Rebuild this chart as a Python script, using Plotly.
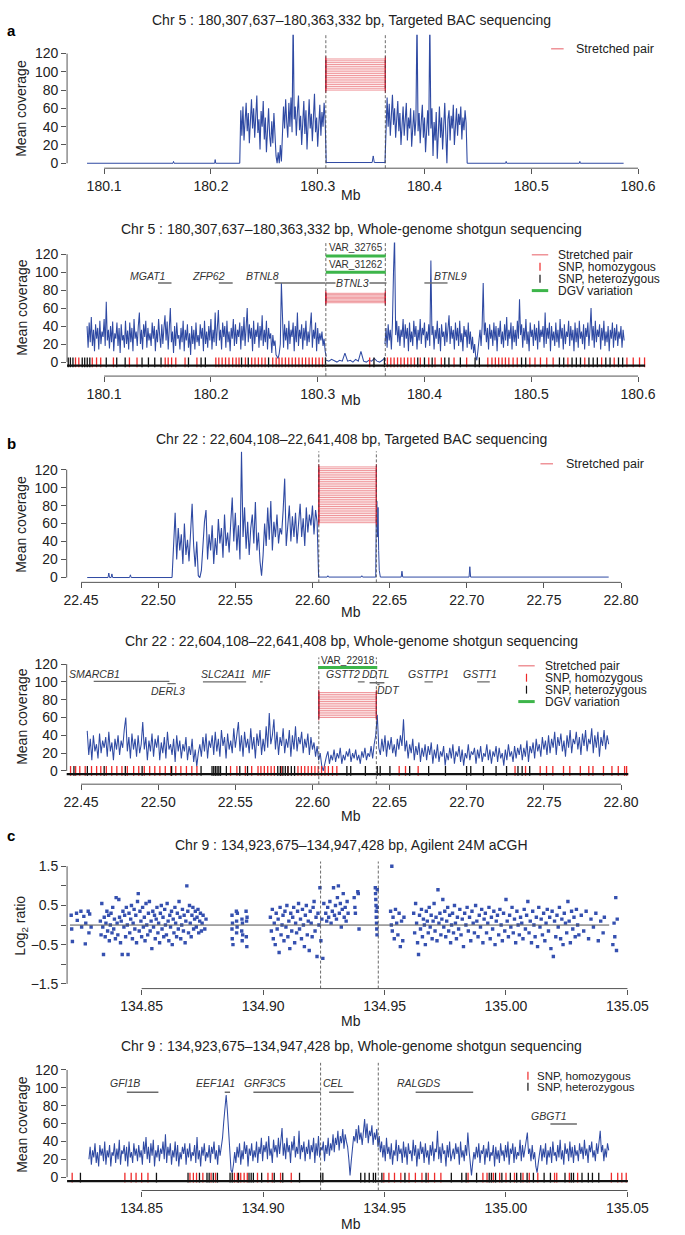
import plotly.graph_objects as go

W, H = 685, 1235
BLUE = '#2f4aa3'
PAIR = 'rgba(226,60,70,0.55)'
PAIR_EDGE = '#d7263d'
GREEN = '#3db54a'
GREY = '#555555'
GENE = '#6a6a6a'
TXT = '#222222'
RED = '#ee2a2a'
BLACK = '#111111'
FONT = 'Arial, Liberation Sans, sans-serif'

# breakpoints (Mb)
chr5_bp = [180.307637, 180.363332]
chr22_bp = [22.604108, 22.641408]
chr9_bp = [134.923675, 134.947428]

# ---------------- panel a, targeted BAC (chr5) ----------------
bac5_flat_left_x = [180.084, 180.1645, 180.165, 180.1655, 180.2035, 180.204, 180.2045, 180.227]
bac5_flat_left_y = [0, 0, 2, 0, 0, 4, 0, 0]
bac5_a_span = [180.227, 180.308]
bac5_a_vals = [0, 58, 30, 62, 25, 48, 66, 35, 55, 22,
               45, 70, 38, 60, 28, 52, 74, 33, 48, 15,
               57, 40, 68, 26, 50, 12, 44, 60, 30, 18,
               46, 22, 55, 30, 8, 0, 12, 0, 20, 2,
               30, 62, 38, 70, 45, 28, 66, 40, 72, 34,
               160, 48, 62, 30, 56, 74, 36, 52, 20, 46,
               68, 32, 58, 15, 48, 70, 38, 54, 24, 60,
               76, 34, 50, 18, 44, 64, 30, 56, 40, 66,
               48, 0]
bac5_gap_x = [180.308, 180.351, 180.352, 180.353, 180.363]
bac5_gap_y = [0.8, 0.8, 8, 0.8, 0.8]
bac5_b_span = [180.363, 180.440]
bac5_b_vals = [0, 50, 72, 40, 65, 30, 58, 75, 42, 60,
               28, 52, 68, 35, 55, 20, 48, 62, 30, 45,
               66, 25, 50, 38, 60, 18, 42, 58, 30, 48,
               160, 35, 55, 22, 46, 64, 28, 50, 12, 40,
               58, 30, 160, 38, 60, 8, 45, 25, 56, 5,
               42, 62, 28, 50, 15, 44, 66, 32, 0, 48,
               58, 25, 52, 38, 64, 20, 46, 60, 30, 54,
               42, 62, 26, 50, 36, 58, 44, 0]
bac5_flat_right_x = [180.440, 180.476, 180.4765, 180.477, 180.545, 180.5455, 180.546, 180.5865]
bac5_flat_right_y = [0, 0, 2, 0, 0, 2, 0, 0]
pairs5_bac = [80, 82, 84, 86, 88, 90, 92, 94, 96, 98, 100, 102, 104, 106, 108, 110, 112, 114]

# ---------------- panel a, WGS (chr5), 1 kb bins ----------------
wgs5_left_span = [180.084, 180.308]
wgs5_left = [40, 16, 44, 22, 50, 18, 36, 12, 42, 26, 38, 14, 46, 20, 34, 28, 48, 18, 67, 24,
             36, 15, 40, 22, 45, 12, 32, 26, 44, 18, 38, 10, 42, 24, 30, 16, 46, 20, 35, 14,
             44, 22, 38, 12, 48, 26, 34, 18, 40, 55, 20, 36, 14, 42, 28, 46, 16, 38, 24, 32,
             18, 44, 26, 40, 12, 36, 22, 48, 30, 16, 42, 20, 38, 52, 24, 45, 14, 40, 60, 22,
             34, 10, 40, 18, 44, 26, 30, 14, 38, 22, 46, 12, 36, 24, 42, 16, 32, 8, 40, 20,
             36, 14, 44, 22, 30, 18, 42, 26, 38, 12, 46, 20, 34, 16, 40, 24, 48, 14, 36, 22,
             55, 18, 42, 58, 24, 36, 14, 44, 28, 40, 16, 46, 22, 34, 12, 38, 26, 48, 18, 42,
             20, 36, 28, 44, 14, 40, 24, 50, 18, 34, 60, 22, 42, 26, 38, 12, 46, 20, 36, 28,
             44, 16, 40, 24, 52, 18, 36, 22, 46, 14, 38, 26, 32, 10, 30, 18, 24, 8, 6, 4,
             10, 20, 88, 34, 16, 42, 24, 38, 14, 46, 20, 36, 28, 44, 12, 40, 22, 55, 18, 36,
             26, 42, 14, 38, 24, 46, 18, 34, 22, 40, 55, 16, 36, 26, 44, 12, 38, 20, 32, 24,
             34, 18, 26, 12, 6]
wgs5_del_span = [180.308, 180.363]
wgs5_del = [2, 1, 3, 1, 0, 2, 1, 10, 1, 2, 0, 3, 1, 12, 1, 0, 2, 1, 4, 1, 0, 2, 5]
wgs5_right_span = [180.363, 180.587]
wgs5_right = [20, 38, 16, 42, 24, 36, 14, 44, 100, 140, 30, 46, 22, 40, 18, 36, 28, 48, 16, 42,
              26, 38, 12, 44, 22, 34, 18, 46, 28, 40, 14, 36, 24, 48, 20, 38, 30, 44, 16, 34,
              24, 42, 18, 113, 30, 40, 14, 36, 26, 46, 20, 38, 12, 42, 28, 34, 18, 44, 22, 36,
              52, 20, 40, 26, 36, 14, 44, 24, 38, 18, 46, 22, 32, 12, 40, 28, 36, 16, 44, 20,
              34, 14, 28, 10, 20, 6, 2, 12, 26, 36, 18, 40, 88, 30, 44, 22, 38, 14, 42, 26,
              36, 18, 44, 24, 40, 12, 38, 28, 46, 20, 34, 16, 42, 24, 50, 18, 36, 26, 44, 14,
              40, 22, 36, 18, 46, 26, 70, 30, 42, 16, 38, 24, 48, 20, 34, 12, 44, 28, 36, 18,
              42, 24, 38, 14, 46, 22, 36, 28, 40, 16, 55, 20, 38, 26, 44, 12, 40, 24, 34, 18,
              44, 22, 36, 16, 48, 26, 38, 14, 42, 20, 34, 28, 46, 18, 40, 24, 36, 12, 44, 22,
              38, 16, 46, 26, 34, 20, 42, 14, 38, 28, 44, 18, 36, 60, 24, 40, 16, 46, 22, 36,
              28, 42, 14, 38, 24, 46, 18, 34, 22, 40, 12, 36, 26, 44, 16, 38, 24, 42, 18, 34,
              26, 40, 16, 36, 24]
pairs5_wgs = [66, 67.5, 69, 70.5, 72, 73.5, 75, 76.5]
snp5_hom = [180.0732, 180.0763, 180.0889, 180.0929, 180.0968, 180.1087, 180.1237, 180.1308,
            180.1572, 180.1600, 180.1632, 180.1671, 180.1758, 180.1869, 180.2046, 180.2074,
            180.2105, 180.2137, 180.2169, 180.2204, 180.2236, 180.2263, 180.2323, 180.2382,
            180.2413, 180.2445, 180.2477, 180.2508, 180.2579, 180.2611, 180.2638, 180.2666,
            180.2698, 180.2729, 180.2761, 180.2792, 180.2824, 180.2856, 180.2887, 180.2919,
            180.2950, 180.2982, 180.3013, 180.3045, 180.3487, 180.3653, 180.3685, 180.3716,
            180.3748, 180.3779, 180.3811, 180.3843, 180.3874, 180.3906, 180.3961, 180.4040,
            180.4099, 180.4158, 180.4277, 180.4395, 180.4593, 180.4632, 180.4664, 180.4695,
            180.4727, 180.4758, 180.4790, 180.4830, 180.4869, 180.4987, 180.5035, 180.5086,
            180.5145, 180.5205, 180.5343, 180.5501, 180.5659, 180.5777, 180.5896, 180.5955,
            180.6014, 180.6061]
snp5_het = [180.0664, 180.0684, 180.0708, 180.0795, 180.0818, 180.0842, 180.0866, 180.1020,
            180.1118, 180.1197, 180.1355, 180.1415, 180.1474, 180.1533, 180.1790, 180.1908,
            180.1948, 180.2287, 180.2350, 180.2540, 180.3073, 180.3527, 180.3625, 180.3937,
            180.4000, 180.4072, 180.4190, 180.4229, 180.4336, 180.4474, 180.4514, 180.4909,
            180.4948, 180.5264, 180.5304, 180.5382, 180.5422, 180.5461, 180.5540, 180.5580,
            180.5619, 180.5698, 180.5738, 180.5817, 180.5856]
genes5_name = ['MGAT1', 'ZFP62', 'BTNL8', 'BTNL3', 'BTNL9']
genes5_start = [180.1505, 180.2074, 180.2598, 180.3076, 180.3999]
genes5_end = [180.1631, 180.2204, 180.3073, 180.3644, 180.4216]
genes5_y = [88, 88, 88, 88, 88]
genes5_lab_x = [180.1403, 180.1979, 180.2480, 180.3330, 180.4244]
genes5_lab_y = [96, 96, 96, 88, 96]
dgv5_name = ['VAR_32765', 'VAR_31262']
dgv5_y = [118, 100]
dgv5_lab_y = [127, 108.5]
dgv5_span = [180.3076, 180.3638]

# ---------------- panel b, targeted BAC (chr22) ----------------
bac22_flat_left_x = [22.454, 22.4675, 22.468, 22.4685, 22.4695, 22.470, 22.4705,
                     22.4815, 22.482, 22.4825, 22.509]
bac22_flat_left_y = [0, 0, 5, 0, 0, 4, 0, 0, 3, 0, 0]
bac22_span = [22.509, 22.604]
bac22_vals = [0, 45, 72, 20, 55, 30, 48, 15, 60, 25,
              42, 18, 50, 82, 35, 12, 40, 2, 0, 8,
              35, 62, 75, 20, 48, 30, 58, 15, 44, 25,
              65, 38, 55, 22, 70, 35, 50, 28, 60, 89,
              40, 72, 30, 58, 20, 140, 45, 78, 32, 62,
              25, 55, 70, 38, 84, 30, 50, 18, 2, 25,
              60, 35, 78, 42, 85, 30, 62, 45, 70, 38,
              55, 48, 75, 110, 35, 62, 80, 40, 68, 45,
              72, 38, 60, 82, 45, 66, 35, 78, 50, 70,
              58, 80, 48, 75, 62, 0]
bac22_gap_x = [22.604, 22.6095, 22.610, 22.6105, 22.6315, 22.632, 22.6325, 22.641,
               22.6413, 22.6417, 22.6421, 22.6425, 22.6429, 22.6433, 22.644,
               22.6575, 22.658, 22.6585, 22.7015, 22.702, 22.7025, 22.792]
bac22_gap_y = [0.5, 0.5, 2, 0.5, 0.5, 2, 0.5, 0.5,
               60, 85, 45, 78, 30, 8, 0.5,
               0.5, 7, 0.5, 0.5, 12, 0.5, 0.5]
pairs22_bac = [61, 63, 65, 67, 69, 71, 73, 75, 77, 79, 81, 83, 85, 87, 89, 91,
               93, 95, 97, 99, 101, 103, 105, 107, 109, 111, 113, 115, 117, 119, 121, 123]

# ---------------- panel b, WGS (chr22), 1 kb bins ----------------
wgs22_span = [22.454, 22.792]
wgs22_vals = [45, 18, 36, 12, 40, 22, 30, 14, 42, 20, 34, 26, 38, 16, 44, 22, 32, 12, 36, 24,
              40, 18, 34, 26, 46, 60, 22, 38, 14, 42, 24, 36, 16, 40, 20, 30, 55, 24, 38, 12,
              34, 22, 42, 16, 36, 26, 40, 12, 32, 20, 38, 14, 44, 24, 30, 18, 36, 10, 40, 22,
              34, 14, 30, 22, 38, 12, 28, 18, 36, 10, 24, 5, 20, 30, 16, 38, 22, 42, 14, 34,
              26, 40, 18, 44, 22, 36, 16, 46, 28, 38, 14, 42, 24, 34, 20, 48, 26, 38, 55, 22,
              40, 16, 44, 26, 36, 20, 48, 24, 38, 14, 42, 28, 46, 18, 36, 22, 50, 26, 65, 30,
              40, 58, 24, 44, 18, 38, 28, 48, 20, 36, 26, 46, 16, 40, 24, 50, 22, 38, 30, 44,
              20, 36, 26, 42, 18, 38, 24, 32, 16, 28, 12, 20, 6, 0, 10, 16, 22, 8, 18, 12,
              24, 10, 20, 14, 26, 8, 18, 12, 22, 16, 25, 10, 20, 14, 24, 12, 18, 8, 22, 15,
              26, 12, 20, 16, 28, 14, 30, 40, 63, 26, 18, 36, 22, 40, 16, 34, 24, 38, 20, 30,
              16, 36, 24, 40, 28, 58, 22, 34, 14, 30, 20, 36, 12, 28, 18, 32, 10, 26, 16, 30,
              12, 28, 18, 32, 8, 24, 14, 30, 10, 22, 16, 28, 6, 20, 12, 26, 14, 30, 8, 22,
              16, 28, 10, 24, 6, 20, 14, 30, 12, 22, 18, 26, 8, 24, 14, 28, 10, 20, 16, 30,
              12, 24, 8, 22, 16, 28, 10, 26, 14, 20, 6, 24, 12, 30, 16, 22, 10, 28, 14, 26,
              18, 30, 12, 26, 16, 34, 10, 28, 20, 32, 14, 36, 22, 30, 16, 38, 24, 34, 18, 40,
              20, 36, 26, 44, 18, 38, 28, 42, 22, 34, 16, 40, 26, 46, 20, 36, 30, 44, 24, 38,
              18, 42, 28, 46, 22, 36, 30, 48, 20, 40, 26, 44, 16, 38, 28, 46, 24, 40, 30]
pairs22_wgs = [60, 62, 64, 66, 68, 70, 72, 74, 76, 78, 80, 82, 84, 86, 88]
snp22_hom = [22.4432, 22.4465, 22.4492, 22.4527, 22.4568, 22.4601, 22.4628, 22.4664,
             22.4699, 22.4732, 22.4765, 22.4800, 22.4841, 22.4874, 22.4910, 22.4945,
             22.4978, 22.5011, 22.5046, 22.5082, 22.5114, 22.5147, 22.5183, 22.5218,
             22.5251, 22.5469, 22.5510, 22.5565, 22.5606, 22.5647, 22.5666, 22.5688,
             22.5710, 22.5732, 22.5753, 22.5797, 22.5841, 22.5906, 22.5928, 22.5950,
             22.5972, 22.5994, 22.6016, 22.6037, 22.6059, 22.6081, 22.6103, 22.6130,
             22.6158, 22.6562, 22.6603, 22.6685, 22.7313, 22.7381, 22.7476, 22.7517,
             22.7558, 22.7627, 22.7668, 22.7736, 22.7791, 22.7818, 22.7886, 22.7941,
             22.7982, 22.8023, 22.8036]
snp22_het = [22.4454, 22.4541, 22.4650, 22.4787, 22.4896, 22.5087, 22.5278, 22.5349,
             22.5360, 22.5371, 22.5382, 22.5393, 22.5404, 22.5442, 22.5529, 22.5579,
             22.5775, 22.5792, 22.5808, 22.5824, 22.5841, 22.5863, 22.5884, 22.6223,
             22.6248, 22.6343, 22.6420, 22.6439, 22.6502, 22.6630, 22.6753, 22.6862,
             22.6999, 22.7026, 22.7108, 22.7190, 22.7258, 22.7332, 22.7359, 22.7408]
genes22_name = ['SMARCB1', 'DERL3', 'SLC2A11', 'MIF', 'GSTT2', 'DDTL', 'DDT', 'GSTTP1', 'GSTT1']
genes22_start = [22.4582, 22.5060, 22.5290, 22.5660, 22.6294, 22.6370, 22.6420, 22.6726, 22.7067]
genes22_end = [22.5073, 22.5114, 22.5570, 22.5677, 22.6338, 22.6466, 22.6435, 22.6780, 22.7149]
genes22_y = [100.6, 98, 100, 100, 100, 99, 97, 100, 100]
genes22_lab_x = [22.4587, 22.5065, 22.5423, 22.5672, 22.6201, 22.6411, 22.6491, 22.6750, 22.7086]
genes22_lab_y = [109, 89.5, 109, 109, 109, 109, 90.6, 109, 109]
dgv22_name = ['VAR_22918']
dgv22_y = [116.3]
dgv22_lab_y = [124]
dgv22_span = [22.6037, 22.6420]

# ---------------- panel c, aCGH (chr9) ----------------
acgh_line = [134.8205, 135.0425]
acgh_probes = [
    (134.8210, 0.25), (134.8212, -0.10), (134.8215, -0.42), (134.8232, 0.30), (134.8235, 0.12),
    (134.8250, 0.35), (134.8253, -0.05), (134.8262, 0.22), (134.8268, -0.48), (134.8270, 0.05),
    (134.8280, 0.35), (134.8283, -0.20), (134.8286, 0.28), (134.8292, -0.05),
    (134.8330, 0.10), (134.8333, -0.25), (134.8336, 0.55), (134.8340, -0.05), (134.8343, -0.75),
    (134.8346, 0.20), (134.8350, -0.30), (134.8353, 0.05), (134.8357, 0.35), (134.8360, -0.15),
    (134.8364, 0.25), (134.8367, -0.40), (134.8371, 0.00), (134.8374, 0.30), (134.8378, -0.20),
    (134.8381, 0.45), (134.8385, -0.10), (134.8388, 0.15), (134.8392, -0.35), (134.8395, 0.70),
    (134.8399, 0.05), (134.8402, -0.25), (134.8406, 0.65), (134.8409, 0.20), (134.8413, -0.45),
    (134.8416, 0.10), (134.8420, -0.75), (134.8423, 0.35), (134.8427, -0.05), (134.8430, 0.25),
    (134.8434, -0.30), (134.8437, 0.45), (134.8441, 0.00), (134.8444, -0.75), (134.8448, 0.30),
    (134.8451, -0.20), (134.8455, 0.15), (134.8458, 0.50), (134.8462, -0.35), (134.8465, 0.05),
    (134.8469, 0.40), (134.8472, -0.10), (134.8476, 0.25), (134.8479, -0.45), (134.8483, 0.60),
    (134.8486, 0.80), (134.8490, -0.15), (134.8493, 0.35), (134.8497, 0.10), (134.8500, -0.30),
    (134.8504, 0.45), (134.8507, -0.05), (134.8511, 0.20), (134.8514, -0.40), (134.8518, 0.55),
    (134.8521, 0.00), (134.8525, -0.25), (134.8528, 0.30), (134.8532, 0.60), (134.8535, -0.15),
    (134.8539, 0.10), (134.8542, -0.60), (134.8546, 0.35), (134.8549, -0.05), (134.8553, 0.25),
    (134.8556, -0.35), (134.8560, 0.15), (134.8563, 0.45), (134.8567, -0.20), (134.8570, 0.05),
    (134.8574, -0.45), (134.8577, 0.30), (134.8581, 0.50), (134.8584, -0.10), (134.8588, 0.20),
    (134.8591, -0.30), (134.8595, 0.40), (134.8598, 0.00), (134.8602, -0.25), (134.8605, 0.55),
    (134.8609, 0.10), (134.8612, -0.40), (134.8616, 0.25), (134.8619, -0.05), (134.8623, 0.35),
    (134.8626, -0.50), (134.8630, 0.15), (134.8633, -0.20), (134.8637, 0.45), (134.8640, 0.05),
    (134.8644, -0.30), (134.8647, 0.30), (134.8651, -0.10), (134.8654, 0.60), (134.8658, 0.20),
    (134.8661, -0.35), (134.8665, 0.00), (134.8668, 0.40), (134.8672, -0.15), (134.8675, 0.25),
    (134.8679, -0.45), (134.8682, 0.10), (134.8686, 1.00), (134.8690, 0.35), (134.8693, -0.20),
    (134.8697, 0.50), (134.8700, 0.05), (134.8704, -0.30), (134.8707, 0.25), (134.8711, 0.45),
    (134.8714, -0.10), (134.8718, 0.15), (134.8721, 0.35), (134.8725, -0.05), (134.8728, 0.20),
    (134.8732, 0.40), (134.8735, -0.20), (134.8739, 0.10), (134.8742, 0.30), (134.8746, -0.15),
    (134.8749, 0.05), (134.8753, 0.25), (134.8760, -0.10), (134.8765, 0.15),
    (134.8872, 0.25), (134.8872, -0.10), (134.8873, -0.35), (134.8874, 0.05), (134.8876, -0.50),
    (134.8890, 0.35), (134.8891, 0.10), (134.8891, -0.20), (134.8893, -0.05), (134.8894, 0.30),
    (134.8912, -0.15), (134.8913, 0.15), (134.8914, -0.40), (134.8915, 0.05), (134.8916, -0.25),
    (134.8930, 0.35), (134.8931, -0.30), (134.8932, 0.10), (134.8933, -0.55), (134.8934, 0.20),
    (134.9030, 0.20), (134.9034, -0.15), (134.9038, 0.40), (134.9042, -0.35), (134.9046, 0.05),
    (134.9050, -0.50), (134.9054, 0.30), (134.9058, -0.10), (134.9062, 0.15), (134.9066, -0.70),
    (134.9070, 0.45), (134.9074, -0.25), (134.9078, 0.00), (134.9082, 0.25), (134.9086, -0.40),
    (134.9090, 0.35), (134.9094, -0.05), (134.9098, 0.50), (134.9102, -0.30), (134.9106, 0.10),
    (134.9110, -0.60), (134.9114, 0.30), (134.9118, -0.15), (134.9122, 0.20), (134.9126, 0.45),
    (134.9130, -0.45), (134.9134, 0.05), (134.9138, -0.20), (134.9142, 0.35), (134.9146, 0.55),
    (134.9150, -0.10), (134.9154, 0.15), (134.9158, -0.35), (134.9162, 0.40), (134.9166, 0.00),
    (134.9170, -0.55), (134.9174, 0.25), (134.9178, 0.50), (134.9182, -0.25), (134.9186, 0.10),
    (134.9190, -0.65), (134.9194, 0.35), (134.9198, 0.05), (134.9202, -0.30), (134.9206, 0.45),
    (134.9210, 0.60), (134.9214, -0.15), (134.9218, 0.20), (134.9222, -0.80), (134.9226, 0.30),
    (134.9230, 0.00), (134.9234, 0.95), (134.9238, -0.40), (134.9242, 0.15), (134.9246, -0.85),
    (134.9250, 0.55),
    (134.9258, 0.30), (134.9262, 0.10), (134.9266, 0.45), (134.9270, 0.20), (134.9275, 0.60),
    (134.9280, 0.05), (134.9285, 0.35), (134.9290, 0.95), (134.9294, 0.25), (134.9298, 0.50),
    (134.9302, 0.15), (134.9306, 0.70), (134.9310, 1.00), (134.9314, 0.30), (134.9318, 0.55),
    (134.9322, -0.05), (134.9326, 0.40), (134.9330, 0.80), (134.9334, 0.20), (134.9338, 0.45),
    (134.9342, 0.10), (134.9346, 0.60), (134.9350, 0.30), (134.9375, 0.70), (134.9378, 0.45),
    (134.9380, 0.30), (134.9390, 0.85), (134.9392, 0.80), (134.9395, -0.10),
    (134.9462, 0.95), (134.9463, 0.80), (134.9464, 0.65), (134.9465, 0.50), (134.9466, 0.35),
    (134.9466, 0.20), (134.9467, 0.05), (134.9468, -0.10), (134.9469, -0.25), (134.9470, 0.90),
    (134.9470, 0.45),
    (134.9525, 0.35), (134.9528, 0.00), (134.9530, 1.50), (134.9532, -0.15), (134.9535, 0.20),
    (134.9540, -0.35), (134.9545, 0.40), (134.9550, 0.05), (134.9555, -0.25), (134.9560, 0.30),
    (134.9565, -0.55), (134.9570, 0.10), (134.9575, -0.40), (134.9580, 0.20),
    (134.9620, 0.30), (134.9624, -0.20), (134.9628, 0.55), (134.9632, 0.05), (134.9636, -0.45),
    (134.9640, -0.75), (134.9644, 0.25), (134.9648, -0.10), (134.9652, 0.40), (134.9656, -0.30),
    (134.9660, 0.15), (134.9664, 0.00), (134.9668, -0.50), (134.9672, 0.35), (134.9676, 0.10),
    (134.9680, -0.20), (134.9684, 0.45), (134.9688, -0.05), (134.9692, 0.25), (134.9696, -0.35),
    (134.9700, 0.10), (134.9704, 0.55), (134.9708, -0.15), (134.9712, 0.20), (134.9716, -0.40),
    (134.9720, 0.90), (134.9724, 0.05), (134.9728, 0.30), (134.9732, -0.25), (134.9736, 0.15),
    (134.9740, 0.65), (134.9744, -0.05), (134.9748, 0.35), (134.9752, -0.30), (134.9756, 0.10),
    (134.9760, 0.45), (134.9764, -0.15), (134.9768, 0.25), (134.9772, -0.45), (134.9776, 0.00),
    (134.9780, 0.30), (134.9784, -0.20), (134.9788, 0.50), (134.9792, 0.05), (134.9796, -0.35),
    (134.9800, 0.20), (134.9805, -0.10), (134.9810, 0.40), (134.9815, -0.25), (134.9820, 0.15),
    (134.9825, -0.55), (134.9830, 0.30), (134.9835, 0.00), (134.9840, 0.45), (134.9845, -0.15),
    (134.9850, 0.20), (134.9855, -0.40), (134.9860, 0.35), (134.9865, 0.05), (134.9870, -0.20),
    (134.9875, 0.50), (134.9880, 0.10), (134.9885, -0.30), (134.9890, 0.25), (134.9895, -0.05),
    (134.9900, 0.40), (134.9905, -0.45), (134.9910, 0.15), (134.9915, 0.30), (134.9920, -0.20),
    (134.9925, 0.05), (134.9930, 0.45), (134.9935, -0.35), (134.9940, 0.20), (134.9945, -0.10),
    (134.9950, 0.35), (134.9955, -0.50), (134.9960, 0.10), (134.9965, 0.25), (134.9970, -0.25),
    (134.9975, 0.40), (134.9980, 0.00), (134.9985, -0.40), (134.9990, 0.30), (134.9995, -0.15),
    (135.0000, 0.65), (135.0005, 0.10), (135.0010, -0.30), (135.0015, 0.25), (135.0020, -0.05),
    (135.0025, 0.45), (135.0030, -0.20), (135.0035, 0.15), (135.0040, -0.45), (135.0045, 0.35),
    (135.0050, 0.00), (135.0055, -0.25), (135.0060, 0.20), (135.0065, 0.05), (135.0070, -0.35),
    (135.0075, 0.40), (135.0080, -0.10), (135.0085, 0.25), (135.0090, 0.60), (135.0095, -0.20),
    (135.0100, 0.10), (135.0105, -0.45), (135.0110, 0.35), (135.0115, 0.00), (135.0120, -0.30),
    (135.0125, 0.20), (135.0130, -0.55), (135.0135, 0.45), (135.0140, -0.05), (135.0145, 0.15),
    (135.0150, -0.25), (135.0155, 0.30), (135.0160, -0.40), (135.0165, 0.05), (135.0170, 0.40),
    (135.0175, -0.15), (135.0180, 0.20), (135.0185, -0.60), (135.0190, 0.35), (135.0195, -0.80),
    (135.0200, 0.10), (135.0205, -0.30), (135.0210, 0.25), (135.0215, -0.05), (135.0220, 0.45),
    (135.0225, -0.35), (135.0230, 0.15), (135.0235, -0.50), (135.0240, 0.30), (135.0245, 0.05),
    (135.0250, -0.20), (135.0255, 0.60), (135.0260, 0.10), (135.0265, -0.45), (135.0270, 0.35),
    (135.0275, -0.10), (135.0280, 0.20), (135.0285, -0.30), (135.0290, 0.40), (135.0295, 0.00),
    (135.0300, -0.25), (135.0310, 0.25), (135.0320, -0.15), (135.0330, 0.35), (135.0340, -0.35),
    (135.0350, 0.15), (135.0360, -0.05), (135.0370, 0.30), (135.0380, -0.40), (135.0390, 0.10),
    (135.0400, -0.20), (135.0405, 0.20), (135.0440, -0.50), (135.0445, 0.05), (135.0448, -0.30),
    (135.0452, 0.70), (135.0455, -0.65), (135.0458, 0.15),
]

# ---------------- panel c, WGS (chr9), 0.5 kb bins ----------------
wgs9_span = [134.8283, 135.0423]
wgs9_vals = [20, 34, 14, 30, 22, 38, 16, 28, 12, 36, 24, 32, 18, 40, 14, 30, 22, 36, 12, 28,
             24, 38, 16, 32, 20, 42, 14, 30, 26, 36, 18, 34, 12, 40, 22, 28, 16, 38, 24, 32,
             18, 36, 22, 30, 14, 40, 26, 45, 20, 34, 16, 38, 24, 42, 12, 30, 22, 36, 18, 32,
             26, 40, 20, 48, 16, 34, 24, 38, 14, 30, 22, 40, 18, 36, 12, 28, 20, 34, 26, 38,
             14, 32, 22, 38, 18, 28, 24, 36, 16, 45, 20, 30, 12, 34, 24, 38, 18, 28, 22, 36,
             16, 34, 26, 40, 20, 30, 14, 36, 24, 32, 44, 62, 80, 92, 74, 56, 30, 8, 5, 14,
             28, 16, 34, 22, 38, 14, 30, 20, 40, 26, 36, 12, 32, 24, 38, 18, 30, 22, 40, 16,
             34, 26, 44, 18, 36, 28, 40, 20, 46, 24, 32, 16, 42, 28, 36, 22, 44, 26, 38, 55,
             24, 38, 20, 44, 28, 36, 16, 40, 30, 46, 22, 34, 26, 52, 20, 36, 28, 40, 18, 34,
             26, 42, 20, 36, 28, 44, 16, 38, 24, 46, 22, 34, 30, 40, 18, 36, 26, 44, 24, 38,
             30, 48, 28, 44, 36, 52, 30, 46, 38, 54, 32, 48, 40, 34, 20, 2, 18, 36, 46, 40,
             54, 38, 58, 42, 50, 36, 56, 65, 44, 60, 38, 52, 46, 58, 36, 50, 42, 54, 34, 46,
             28, 40, 22, 36, 18, 44, 26, 34, 20, 38, 14, 30, 24, 42, 18, 36, 26, 32, 16, 40,
             22, 34, 14, 38, 26, 30, 18, 42, 24, 36, 12, 32, 20, 40, 26, 34, 16, 38, 22, 30,
             14, 36, 24, 40, 18, 32, 28, 52, 20, 34, 16, 38, 26, 30, 12, 36, 22, 40, 18, 28,
             32, 20, 38, 26, 34, 14, 40, 22, 30, 18, 36, 24, 50, 30, 12, 2, 16, 28, 20, 34,
             22, 38, 16, 30, 26, 36, 14, 32, 22, 40, 18, 28, 24, 36, 12, 34, 20, 30, 16, 38,
             24, 30, 18, 36, 22, 40, 14, 32, 26, 38, 16, 34, 20, 28, 24, 42, 18, 36, 22, 30,
             40, 50, 26, 32, 18, 36, 20, 28, 12, 5, 16, 24, 36, 18, 32, 22, 38, 14, 30, 22,
             34, 16, 40, 24, 28, 18, 36, 22, 42, 20, 30, 14, 38, 26, 32, 18, 40, 22, 34, 16,
             36, 24, 30, 18, 38, 26, 34, 20, 42, 24, 32, 16, 36, 28, 40, 22, 30, 18, 38, 26,
             44, 52, 28, 36, 18, 32, 22, 38, 30]
snp9_hom = [134.8214, 134.8431, 134.8457, 134.8477, 134.8500, 134.8526, 134.8699, 134.8713,
            134.8726, 134.8752, 134.8786, 134.8804, 134.8882, 134.8894, 134.8908, 134.8922,
            134.8935, 134.8977, 134.9020, 134.9038, 134.9072, 134.9116, 134.9497, 134.9518,
            134.9541, 134.9567, 134.9601, 134.9627, 134.9654, 134.9680, 134.9706, 134.9732,
            134.9844, 134.9905, 134.9922, 134.9948, 134.9974, 135.0000, 135.0035, 135.0070,
            135.0096, 135.0131, 135.0200, 135.0209, 135.0261, 135.0295, 135.0434, 135.0460,
            135.0477, 135.0495]
snp9_het = [134.8248, 134.8561, 134.8691, 134.8738, 134.8769, 134.8778, 134.8795, 134.8812,
            134.8864, 134.8873, 134.8899, 134.8942, 134.8951, 134.8960, 134.8994, 134.9046,
            134.9081, 134.9150, 134.9237, 134.9246, 134.9402, 134.9419, 134.9437, 134.9454,
            134.9463, 134.9489, 134.9584, 134.9671, 134.9775, 134.9818, 134.9836, 134.9879,
            134.9931, 134.9940, 134.9957, 134.9983, 135.0018, 135.0044, 135.0061, 135.0087,
            135.0113, 135.0157, 135.0183, 135.0243, 135.0269, 135.0278, 135.0313, 135.0339,
            135.0356, 135.0382]
genes9_name = ['GFI1B', 'EEF1A1', 'GRF3C5', 'CEL', 'RALGDS', 'GBGT1']
genes9_start = [134.8439, 134.8842, 134.8960, 134.9272, 134.9628, 135.0183]
genes9_end = [134.8569, 134.8864, 134.9237, 134.9373, 134.9865, 135.0292]
genes9_y = [95, 95, 95, 95, 95, 59.6]
genes9_lab_x = [134.8431, 134.8804, 134.9007, 134.9289, 134.9640, 135.0177]
genes9_lab_y = [105.5, 105.5, 105.5, 105.5, 105.5, 68]

# tick labels
ticks5 = [180.1, 180.2, 180.3, 180.4, 180.5, 180.6]
ticks22 = [22.45, 22.50, 22.55, 22.60, 22.65, 22.70, 22.75, 22.80]
ticks9 = [134.85, 134.90, 134.95, 135.00, 135.05]
ticks_cov = [0, 20, 40, 60, 80, 100, 120]
ticks_log = [-1.5, -0.5, 0.5, 1.5]
ticks_log_text = ['\u22121.5', '\u22120.5', '0.5', '1.5']
ticks_log_minor = [-1.0, 0, 1.0]

# panel geometry in pixels (left, right, top, bottom) and axis ranges
panels = {
    1: dict(xr=[180.0653, 180.6066], xd=[66.4, 665.4], yr=[-5.4, 140.4], yd=[32, 166], xt=ticks5, fmt='%.1f'),
    2: dict(xr=[180.0653, 180.6066], xd=[66.4, 665.4], yr=[-15.6, 133], yd=[240.7, 374.9], xt=ticks5, fmt='%.1f'),
    3: dict(xr=[22.4407, 22.8047], xd=[66, 648], yr=[-5.4, 140.4], yd=[450.5, 582.2], xt=ticks22, fmt='%.2f'),
    4: dict(xr=[22.4407, 22.8047], xd=[66, 648], yr=[-14.9, 127.5], yd=[657.6, 785], xt=ticks22, fmt='%.2f'),
    5: dict(xr=[134.8193, 135.0502], xd=[66.4, 647.6], yr=[-1.62, 1.62], yd=[862.7, 990.4], xt=ticks9, fmt='%.2f'),
    6: dict(xr=[134.8193, 135.0502], xd=[66.4, 647.6], yr=[-14.9, 128], yd=[1065, 1193.3], xt=ticks9, fmt='%.2f'),
}
titles = {
    1: 'Chr 5 : 180,307,637\u2013180,363,332 bp, Targeted BAC sequencing',
    2: 'Chr 5 : 180,307,637\u2013180,363,332 bp, Whole-genome shotgun sequencing',
    3: 'Chr 22 : 22,604,108\u201322,641,408 bp, Targeted BAC sequencing',
    4: 'Chr 22 : 22,604,108\u201322,641,408 bp, Whole-genome shotgun sequencing',
    5: 'Chr 9 : 134,923,675\u2013134,947,428 bp, Agilent 24M aCGH',
    6: 'Chr 9 : 134,923,675\u2013134,947,428 bp, Whole-genome shotgun sequencing',
}
title_y = {1: 17, 2: 227, 3: 438, 4: 641, 5: 846, 6: 1048}
mb_y = {1: 193, 2: 399, 3: 612, 4: 817, 5: 1023, 6: 1227}
ytitle_y = {1: 106, 2: 306, 3: 524, 4: 717, 5: 927, 6: 1127}


def px(x):
    return x / W


def py(y):
    return 1 - y / H


def ax(n):
    s = '' if n == 1 else str(n)
    return 'x' + s, 'y' + s


fig = go.Figure()
shapes = []
notes = []


def line_tr(n, x, y, color=BLUE, width=1.0):
    xa, ya = ax(n)
    fig.add_trace(go.Scatter(x=x, y=y, mode='lines', line=dict(color=color, width=width),
                             xaxis=xa, yaxis=ya, showlegend=False, hoverinfo='skip'))


def bin_tr(n, span, vals, width=1.05):
    xa, ya = ax(n)
    fig.add_trace(go.Scatter(x0=span[0], dx=(span[1] - span[0]) / (len(vals) - 1), y=vals,
                             mode='lines', line=dict(color=BLUE, width=width),
                             xaxis=xa, yaxis=ya, showlegend=False, hoverinfo='skip'))


def pairs_tr(n, bp, ys):
    xa, ya = ax(n)
    xs, yy = [], []
    for v in ys:
        xs += [bp[0], bp[1], None]
        yy += [v, v, None]
    fig.add_trace(go.Scatter(x=xs, y=yy, mode='lines+markers',
                             line=dict(color=PAIR, width=1),
                             marker=dict(symbol='line-ns', size=4, line=dict(color=PAIR_EDGE, width=1)),
                             xaxis=xa, yaxis=ya, showlegend=False, hoverinfo='skip'))


def rug_tr(n, pos, color, y0):
    xa, ya = ax(n)
    fig.add_trace(go.Scatter(x=pos, y=[y0] * len(pos), mode='markers',
                             marker=dict(symbol='line-ns', size=7, line=dict(color=color, width=1.3)),
                             xaxis=xa, yaxis=ya, showlegend=False, hoverinfo='skip', cliponaxis=False))


def baseline(n, y):
    xa, ya = ax(n)
    shapes.append(dict(type='line', xref=xa + ' domain', x0=0, x1=1, yref=ya, y0=y, y1=y,
                       line=dict(color=BLACK, width=2.2), layer='above'))


def breaks(n, bp):
    xa, ya = ax(n)
    for b in bp:
        shapes.append(dict(type='line', xref=xa, x0=b, x1=b, yref=ya + ' domain', y0=0, y1=1,
                           line=dict(color='#444444', width=0.8, dash='3px,2px'), layer='above'))


def genes(n, names, st, en, gy, lx, ly, white=()):
    xa, ya = ax(n)
    for i in range(len(names)):
        shapes.append(dict(type='line', xref=xa, x0=st[i], x1=en[i], yref=ya, y0=gy[i], y1=gy[i],
                           line=dict(color=GENE, width=1.4)))
        note = dict(xref=xa, yref=ya, x=lx[i], y=ly[i], text='<i>%s</i>' % names[i],
                    xanchor='center', yanchor='middle',
                    showarrow=False, font=dict(size=10.5, color='#333333'))
        if names[i] in white:
            note.update(bgcolor='white', borderpad=0)
        notes.append(note)


def dgv(n, names, span, gy, ly):
    xa, ya = ax(n)
    for i in range(len(names)):
        shapes.append(dict(type='line', xref=xa, x0=span[0], x1=span[1], yref=ya, y0=gy[i], y1=gy[i],
                           line=dict(color=GREEN, width=3), layer='above'))
        notes.append(dict(xref=xa, yref=ya, x=(span[0] + span[1]) / 2, y=ly[i], text=names[i],
                          xanchor='center', yanchor='middle',
                          showarrow=False, font=dict(size=10, color='#333333')))


# ---- traces ----
# a, BAC
line_tr(1, bac5_flat_left_x, bac5_flat_left_y)
bin_tr(1, bac5_a_span, bac5_a_vals, 1.1)
line_tr(1, bac5_gap_x, bac5_gap_y)
bin_tr(1, bac5_b_span, bac5_b_vals, 1.1)
line_tr(1, bac5_flat_right_x, bac5_flat_right_y)
pairs_tr(1, chr5_bp, pairs5_bac)
breaks(1, chr5_bp)

# a, WGS
bin_tr(2, wgs5_left_span, wgs5_left)
bin_tr(2, wgs5_del_span, wgs5_del)
bin_tr(2, wgs5_right_span, wgs5_right)
pairs_tr(2, chr5_bp, pairs5_wgs)
rug_tr(2, snp5_hom, RED, -0.3)
rug_tr(2, snp5_het, BLACK, -0.3)
baseline(2, -4)
breaks(2, chr5_bp)
genes(2, genes5_name, genes5_start, genes5_end, genes5_y, genes5_lab_x, genes5_lab_y, white=('BTNL3',))
dgv(2, dgv5_name, dgv5_span, dgv5_y, dgv5_lab_y)

# b, BAC
line_tr(3, bac22_flat_left_x, bac22_flat_left_y)
bin_tr(3, bac22_span, bac22_vals, 1.1)
line_tr(3, bac22_gap_x, bac22_gap_y)
pairs_tr(3, chr22_bp, pairs22_bac)
breaks(3, chr22_bp)

# b, WGS
bin_tr(4, wgs22_span, wgs22_vals)
pairs_tr(4, chr22_bp, pairs22_wgs)
rug_tr(4, snp22_hom, RED, 0)
rug_tr(4, snp22_het, BLACK, 0)
baseline(4, -3.7)
breaks(4, chr22_bp)
genes(4, genes22_name, genes22_start, genes22_end, genes22_y, genes22_lab_x, genes22_lab_y)
dgv(4, dgv22_name, dgv22_span, dgv22_y, dgv22_lab_y)

# c, aCGH
shapes.append(dict(type='line', xref='x5', x0=acgh_line[0], x1=acgh_line[1], yref='y5', y0=0, y1=0,
                   line=dict(color=GREY, width=1)))
fig.add_trace(go.Scatter(x=[p[0] for p in acgh_probes], y=[p[1] for p in acgh_probes], mode='markers',
                         marker=dict(symbol='square', size=3.4, color='#3550b0', line=dict(width=0)),
                         xaxis='x5', yaxis='y5', showlegend=False, hoverinfo='skip'))
breaks(5, chr9_bp)

# c, WGS
bin_tr(6, wgs9_span, wgs9_vals)
rug_tr(6, snp9_hom, RED, -0.5)
rug_tr(6, snp9_het, BLACK, -0.5)
baseline(6, -4.5)
breaks(6, chr9_bp)
genes(6, genes9_name, genes9_start, genes9_end, genes9_y, genes9_lab_x, genes9_lab_y)

# ---- axes ----
lay = {}
for n, p in panels.items():
    xa, ya = ax(n)
    kx = 'xaxis' + xa[1:]
    ky = 'yaxis' + ya[1:]
    lay[kx] = dict(domain=[px(p['xd'][0]), px(p['xd'][1])], range=p['xr'], anchor=ya,
                   tickvals=p['xt'], ticktext=[p['fmt'] % t for t in p['xt']],
                   ticks='outside', ticklen=5, tickwidth=1, tickcolor=GREY,
                   showline=False, showgrid=False, zeroline=False,
                   tickfont=dict(size=14, color=TXT, family=FONT))
    if n == 5:
        yt, ytt = ticks_log, ticks_log_text
        ylim = [ticks_log[0], ticks_log[-1]]
    else:
        yt, ytt = ticks_cov, [str(t) for t in ticks_cov]
        ylim = [ticks_cov[0], ticks_cov[-1]]
    lay[ky] = dict(domain=[py(p['yd'][1]), py(p['yd'][0])], range=p['yr'], anchor=xa,
                   tickvals=yt, ticktext=ytt,
                   ticks='outside', ticklen=5, tickwidth=1, tickcolor=GREY,
                   showline=False, showgrid=False, zeroline=False,
                   tickfont=dict(size=14, color=TXT, family=FONT))
    if n == 5:
        lay[ky]['minor'] = dict(tickvals=ticks_log_minor, ticks='outside', ticklen=5,
                                tickwidth=1, tickcolor=GREY, showgrid=False)
    # axis lines spanning first to last tick, R style
    shapes.append(dict(type='line', xref=xa, x0=p['xt'][0], x1=p['xt'][-1], yref=ya + ' domain', y0=0, y1=0,
                       line=dict(color=GREY, width=1)))
    shapes.append(dict(type='line', xref=xa + ' domain', x0=0, x1=0, yref=ya, y0=ylim[0], y1=ylim[1],
                       line=dict(color=GREY, width=1)))
    notes.append(dict(xref='paper', yref='paper', x=px(361), y=py(title_y[n]), text=titles[n],
                      xanchor='center', yanchor='middle',
                      showarrow=False, font=dict(size=14, color=TXT)))
    notes.append(dict(xref='paper', yref='paper', x=px(361), y=py(mb_y[n]), text='Mb',
                      xanchor='center', yanchor='middle',
                      showarrow=False, font=dict(size=14, color=TXT)))
    notes.append(dict(xref='paper', yref='paper', x=px(19), y=py(ytitle_y[n]),
                      text='Log<sub>2</sub> ratio' if n == 5 else 'Mean coverage', textangle=-90,
                      xanchor='center', yanchor='middle',
                      showarrow=False, font=dict(size=14, color=TXT)))

# panel letters
for letter, yy in [('a', 28), ('b', 443), ('c', 837)]:
    notes.append(dict(xref='paper', yref='paper', x=px(2), y=py(yy), text='<b>%s</b>' % letter,
                      xanchor='left', yanchor='middle', showarrow=False,
                      font=dict(size=15, color='#000000')))


# ---- legends (drawn by hand, tightly spaced like the original) ----
def leg_text(x, y, text, size=12):
    notes.append(dict(xref='paper', yref='paper', x=px(x), y=py(y), text=text,
                      xanchor='left', yanchor='middle',
                      showarrow=False, font=dict(size=size, color=TXT)))


def leg_line(x0, x1, y, color, width):
    shapes.append(dict(type='line', xref='paper', yref='paper', x0=px(x0), x1=px(x1), y0=py(y), y1=py(y),
                       line=dict(color=color, width=width)))


def leg_tick(x, y, color):
    shapes.append(dict(type='line', xref='paper', yref='paper', x0=px(x), x1=px(x), y0=py(y - 4), y1=py(y + 4),
                       line=dict(color=color, width=1.2)))


def leg_block(lx0, lx1, tx, rows, size=12):
    leg_line(lx0, lx1, rows[0], PAIR, 1.5)
    leg_text(tx, rows[0], 'Stretched pair', size)
    leg_tick((lx0 + lx1) / 2, rows[1], RED)
    leg_text(tx, rows[1], 'SNP, homozygous', size)
    leg_tick((lx0 + lx1) / 2, rows[2], BLACK)
    leg_text(tx, rows[2], 'SNP, heterozygous', size)
    leg_line(lx0, lx1, rows[3], GREEN, 3)
    leg_text(tx, rows[3], 'DGV variation', size)


leg_line(568, 581, 46, PAIR, 1.5)
leg_text(592, 46, 'Stretched pair', 12.5)

leg_block(548, 565, 573, [253, 265, 277, 289])

leg_line(557, 570, 463, PAIR, 1.5)
leg_text(581, 463, 'Stretched pair', 12.5)

leg_block(534, 551, 560, [666, 678, 690, 702])

leg_tick(544, 1078, RED)
leg_text(551, 1078, 'SNP, homozygous', 11.5)
leg_tick(544, 1089, BLACK)
leg_text(551, 1089, 'SNP, heterozygous', 11.5)

fig.update_layout(
    width=W, height=H, autosize=False,
    margin=dict(l=0, r=0, t=0, b=0),
    paper_bgcolor='white', plot_bgcolor='white',
    font=dict(family=FONT, color=TXT),
    showlegend=False,
    shapes=shapes, annotations=notes,
    **lay
)

# the page has a default body margin; remove it so the figure sits at the window origin
fig.write_html("out.html", config={'displayModeBar': False},
               post_script="document.body.style.margin='0';")
